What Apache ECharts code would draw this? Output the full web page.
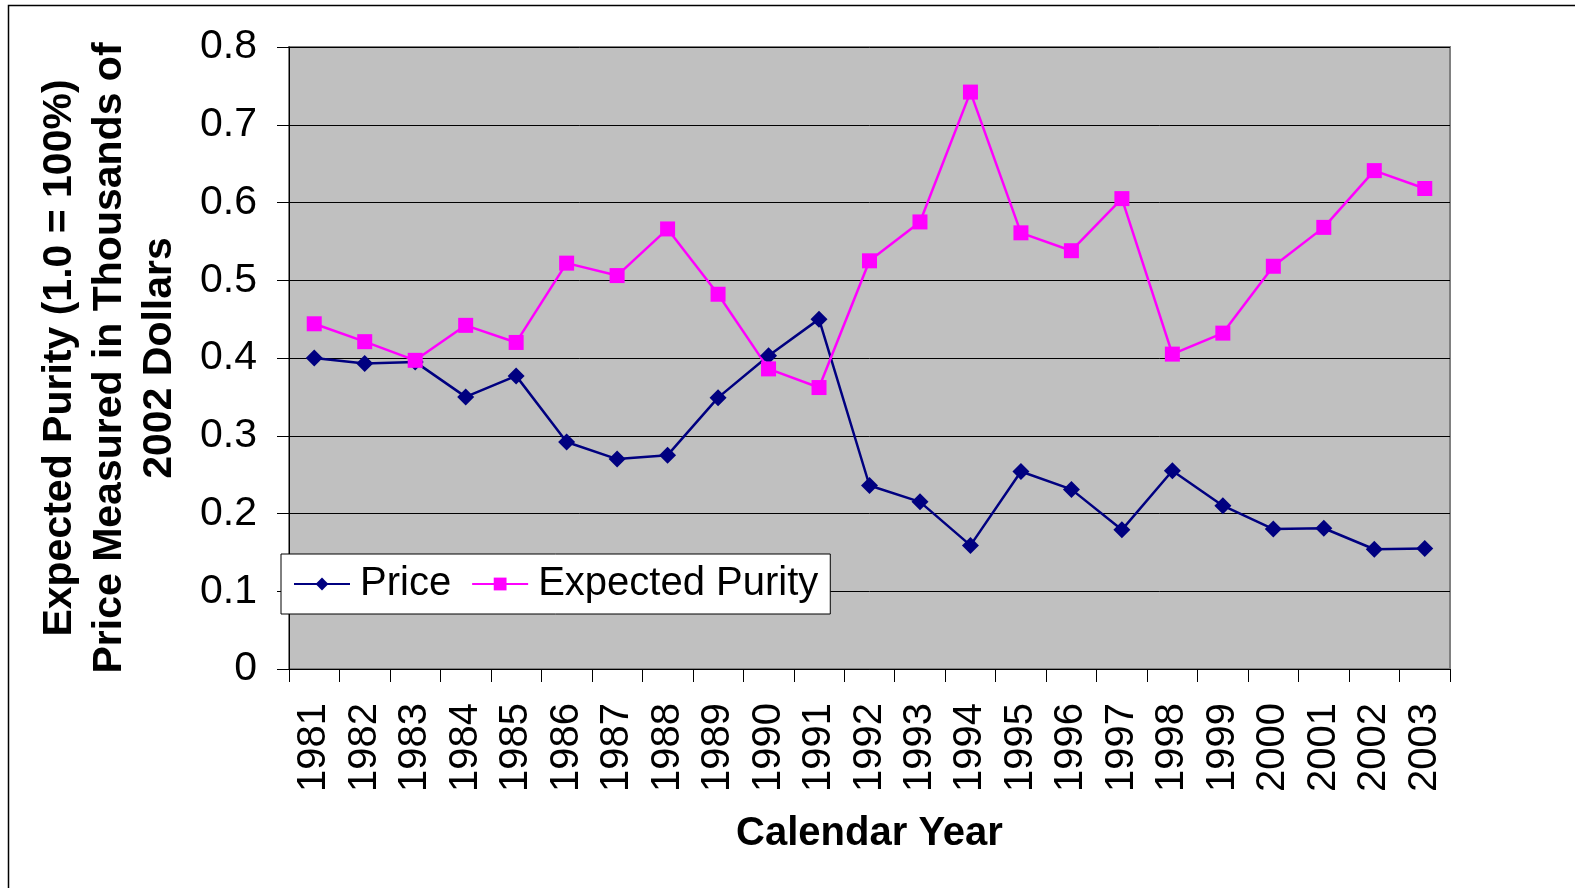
<!DOCTYPE html>
<html><head><meta charset="utf-8">
<script src="https://cdn.jsdelivr.net/npm/echarts@6/dist/echarts.min.js"></script>
<style>html,body{margin:0;padding:0;background:#fff}#c{width:1575px;height:888px}</style>
</head><body><div id="c"></div>
<script>
const years = ['1981','1982','1983','1984','1985','1986','1987','1988','1989','1990','1991','1992','1993','1994','1995','1996','1997','1998','1999','2000','2001','2002','2003'];
const price = [0.400,0.393,0.395,0.350,0.377,0.292,0.270,0.275,0.349,0.403,0.450,0.236,0.215,0.159,0.254,0.231,0.179,0.255,0.210,0.180,0.181,0.154,0.155];
const purity = [0.444,0.421,0.397,0.442,0.420,0.522,0.506,0.566,0.482,0.386,0.362,0.525,0.575,0.742,0.561,0.538,0.605,0.405,0.432,0.518,0.568,0.641,0.618];
const yMin = 0, yMax = 0.8, yStep = 0.1;
const yTitle = ['Expected Purity (1.0 = 100%)','Price Measured in Thousands of','2002 Dollars'];
const xTitle = 'Calendar Year';
const seriesNames = ['Price','Expected Purity'];

const FONT = '"Liberation Sans", Arial, sans-serif';
const chart = echarts.init(document.getElementById('c'), null, {renderer:'canvas'});
chart.setOption({
  animation: false,
  backgroundColor: '#fff',
  textStyle: {fontFamily: FONT},
  graphic: [{
    type: 'rect', left: 6, top: 3, silent: true, z: -10,
    shape: {width: 1600, height: 900},
    style: {fill: 'none', stroke: '#000', lineWidth: 1.5}
  }],
  grid: {
    left: 289, top: 47, right: 125, bottom: 219,
    show: true, backgroundColor: '#C0C0C0', borderColor: '#808080', borderWidth: 2
  },
  legend: {
    left: 281, top: 554,
    orient: 'horizontal',
    backgroundColor: '#fff', borderColor: '#000', borderWidth: 1,
    padding: [10, 12, 10, 12],
    itemWidth: 56, itemHeight: 16, itemGap: 20,
    textStyle: {fontSize: 40, color: '#000', fontFamily: FONT, padding: [0,0,0,5]},
    data: seriesNames
  },
  xAxis: {
    type: 'category', data: years, boundaryGap: true,
    name: xTitle, nameLocation: 'middle', nameGap: 145,
    nameTextStyle: {fontSize: 40, fontWeight: 'bold', color: '#000', fontFamily: FONT},
    axisLine: {show: true, lineStyle: {color: '#000', width: 1}},
    axisTick: {show: true, length: 13, inside: false, alignWithLabel: false, lineStyle: {color: '#000'}},
    axisLabel: {rotate: 90, fontSize: 40, color: '#000', margin: 34, fontFamily: FONT, interval: 0},
    splitLine: {show: false}
  },
  yAxis: {
    type: 'value', min: yMin, max: yMax, interval: yStep,
    name: yTitle.join('\n'), nameLocation: 'middle', nameGap: 104, nameRotate: 90,
    nameTextStyle: {fontSize: 41, fontWeight: 'bold', color: '#000', lineHeight: 50, align: 'center', fontFamily: FONT},
    axisLine: {show: true, lineStyle: {color: '#000', width: 1}},
    axisTick: {show: true, length: 12, lineStyle: {color: '#000'}},
    axisLabel: {fontSize: 41, color: '#000', margin: 32, fontFamily: FONT,
      formatter: v => v === 0 ? '0' : v.toFixed(1)},
    splitLine: {show: true, lineStyle: {color: '#000', width: 1}}
  },
  series: [
    {
      name: seriesNames[0], type: 'line', data: price,
      symbol: 'diamond', symbolSize: 17, showAllSymbol: true,
      lineStyle: {color: '#000080', width: 2.5},
      itemStyle: {color: '#000080'}
    },
    {
      name: seriesNames[1], type: 'line', data: purity,
      symbol: 'rect', symbolSize: 15, showAllSymbol: true,
      lineStyle: {color: '#FF00FF', width: 2.5},
      itemStyle: {color: '#FF00FF'}
    }
  ]
});
</script></body></html>
